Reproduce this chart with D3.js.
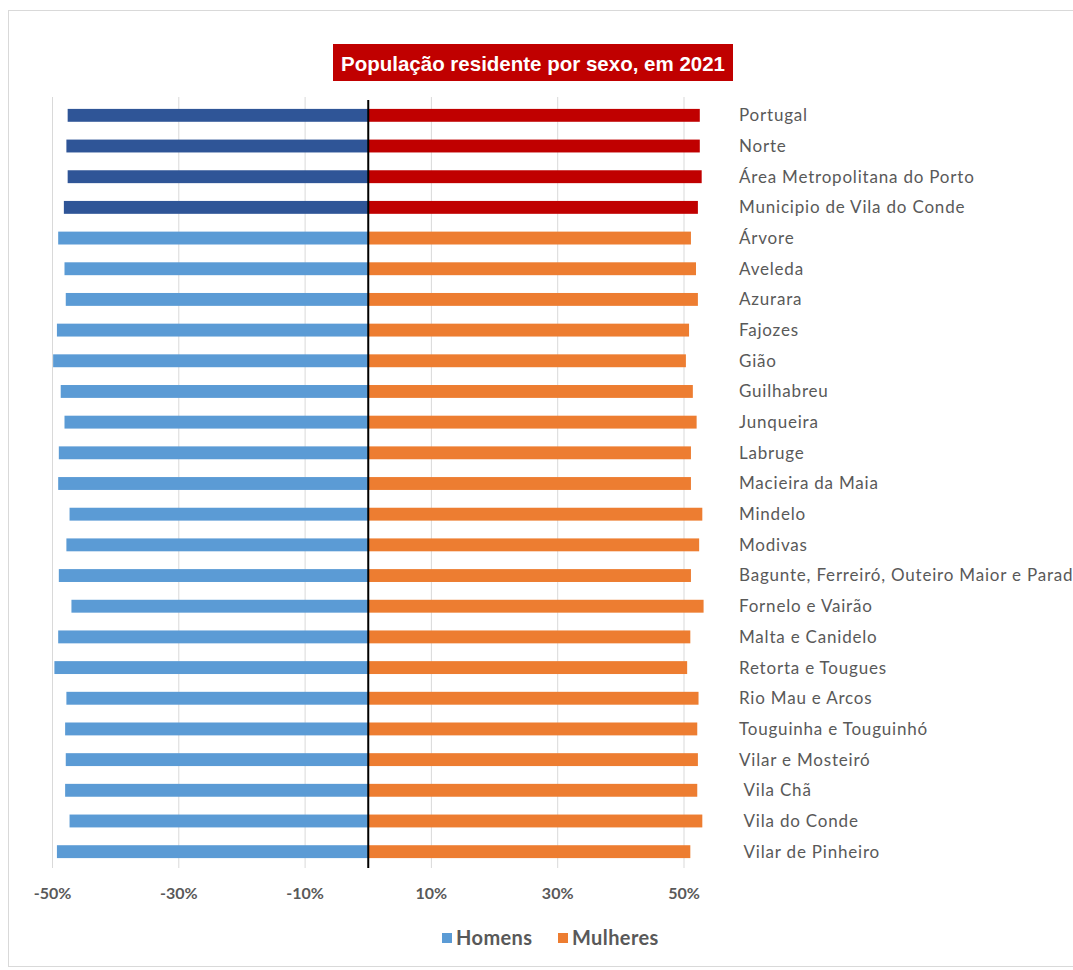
<!DOCTYPE html>
<html>
<head>
<meta charset="utf-8">
<script src="https://cdn.jsdelivr.net/npm/d3@7"></script>
<style>
  body { margin: 0; background: #fff; }
  svg { display: block; }
</style>
</head>
<body>
<svg id="chart" width="1073" height="970"></svg>
<script>
var categorias = [
  "Portugal", "Norte", "Área Metropolitana do Porto", "Municipio de Vila do Conde",
  "Árvore", "Aveleda", "Azurara", "Fajozes", "Gião", "Guilhabreu", "Junqueira",
  "Labruge", "Macieira da Maia", "Mindelo", "Modivas",
  "Bagunte, Ferreiró, Outeiro Maior e Parada", "Fornelo e Vairão", "Malta e Canidelo",
  "Retorta e Tougues", "Rio Mau e Arcos", "Touguinha e Touguinhó", "Vilar e Mosteiró",
  " Vila Chã", " Vila do Conde", " Vilar de Pinheiro"
];

// % de homens e mulheres
var homens = [47.6, 47.8, 47.6, 48.2, 49.1, 48.1, 47.9, 49.3, 49.9, 48.7, 48.1, 49.0, 49.1,
  47.3, 47.8, 49.0, 47.0, 49.1, 49.7, 47.8, 48.0, 47.9, 48.0, 47.3, 49.3];
var mulheres = [52.5, 52.5, 52.8, 52.2, 51.1, 51.9, 52.2, 50.8, 50.3, 51.4, 52.0, 51.1, 51.1,
  52.9, 52.4, 51.1, 53.1, 51.0, 50.5, 52.3, 52.1, 52.2, 52.1, 52.9, 51.0];

// territorios agregados (cores escuras)
var agregados = ["Portugal", "Norte", "Área Metropolitana do Porto", "Municipio de Vila do Conde"];

var ticks = [-50, -30, -10, 10, 30, 50];
var titulo = "População residente por sexo, em 2021";
var legenda = ["Homens", "Mulheres"];

var cores = {
  homens: "#5B9BD5", mulheres: "#ED7D31",
  homensEsc: "#2F5597", mulheresEsc: "#C00000"
};

var svg = d3.select("#chart");

// moldura
svg.append("rect")
  .attr("x", 8.5).attr("y", 10.5)
  .attr("width", 1100).attr("height", 956)
  .attr("fill", "none")
  .attr("stroke", "#d9d9d9");

var x = d3.scaleLinear().domain([-50, 50]).range([52.5, 684]);
var y = d3.scaleBand()
  .domain(categorias)
  .range([100, 867])
  .paddingInner(0.58)
  .paddingOuter(0.29);

var yTop = 97, yBottom = 868;

// grelha
svg.append("g")
  .selectAll("line")
  .data(ticks)
  .enter().append("line")
    .attr("x1", function(d) { return x(d); })
    .attr("x2", function(d) { return x(d); })
    .attr("y1", yTop)
    .attr("y2", yBottom)
    .attr("stroke", "#d9d9d9")
    .attr("stroke-width", 1);

var linhas = categorias.map(function(c, i) {
  return { cat: c, h: homens[i], m: mulheres[i], esc: agregados.indexOf(c) >= 0 };
});

// barras homens
svg.append("g")
  .selectAll("rect")
  .data(linhas)
  .enter().append("rect")
    .attr("x", function(d) { return x(-d.h); })
    .attr("y", function(d) { return y(d.cat); })
    .attr("width", function(d) { return x(0) - x(-d.h); })
    .attr("height", y.bandwidth())
    .attr("fill", function(d) { return d.esc ? cores.homensEsc : cores.homens; });

// barras mulheres
svg.append("g")
  .selectAll("rect")
  .data(linhas)
  .enter().append("rect")
    .attr("x", x(0))
    .attr("y", function(d) { return y(d.cat); })
    .attr("width", function(d) { return x(d.m) - x(0); })
    .attr("height", y.bandwidth())
    .attr("fill", function(d) { return d.esc ? cores.mulheresEsc : cores.mulheres; });

// eixo zero
svg.append("line")
  .attr("x1", x(0)).attr("x2", x(0))
  .attr("y1", 100).attr("y2", yBottom)
  .attr("stroke", "#000")
  .attr("stroke-width", 2);

// nomes das categorias
svg.append("g")
  .selectAll("text")
  .data(linhas)
  .enter().append("text")
    .attr("x", 739)
    .attr("y", function(d) { return y(d.cat) + y.bandwidth() / 2; })
    .attr("dy", "0.35em")
    .style("white-space", "pre")
    .style("font", "17px Lato, 'Open Sans', sans-serif")
    .style("letter-spacing", "0.8px")
    .attr("fill", "#595959")
    .text(function(d) { return d.cat; });

// etiquetas do eixo x
svg.append("g")
  .selectAll("text")
  .data(ticks)
  .enter().append("text")
    .attr("x", function(d) { return x(d); })
    .attr("y", 893)
    .attr("dy", "0.35em")
    .attr("text-anchor", "middle")
    .style("font", "bold 16px Lato, 'Open Sans', sans-serif")
    .attr("fill", "#595959")
    .text(function(d) { return d + "%"; });

// título
var tg = svg.append("g");
tg.append("rect")
  .attr("x", 333).attr("y", 44)
  .attr("width", 400).attr("height", 37)
  .attr("fill", "#C00000");
tg.append("text")
  .attr("x", 533).attr("y", 63)
  .attr("dy", "0.36em")
  .attr("text-anchor", "middle")
  .attr("textLength", 384)
  .attr("lengthAdjust", "spacingAndGlyphs")
  .style("font", "bold 21px 'Liberation Sans Narrow', 'Arial Narrow', 'Liberation Sans', sans-serif")
  .attr("fill", "#fff")
  .text(titulo);

// legenda
var lg = svg.append("g")
  .selectAll("g")
  .data(legenda)
  .enter().append("g")
    .attr("transform", function(d, i) { return "translate(" + [442, 558][i] + ",938)"; });

lg.append("rect")
  .attr("x", 0).attr("y", -5)
  .attr("width", 10).attr("height", 10)
  .attr("fill", function(d, i) { return i === 0 ? cores.homens : cores.mulheres; });

lg.append("text")
  .attr("x", 14)
  .attr("dy", "0.36em")
  .style("font", "bold 20px Lato, 'Open Sans', sans-serif")
  .style("letter-spacing", "0.4px")
  .attr("fill", "#595959")
  .text(function(d) { return d; });
</script>
</body>
</html>
